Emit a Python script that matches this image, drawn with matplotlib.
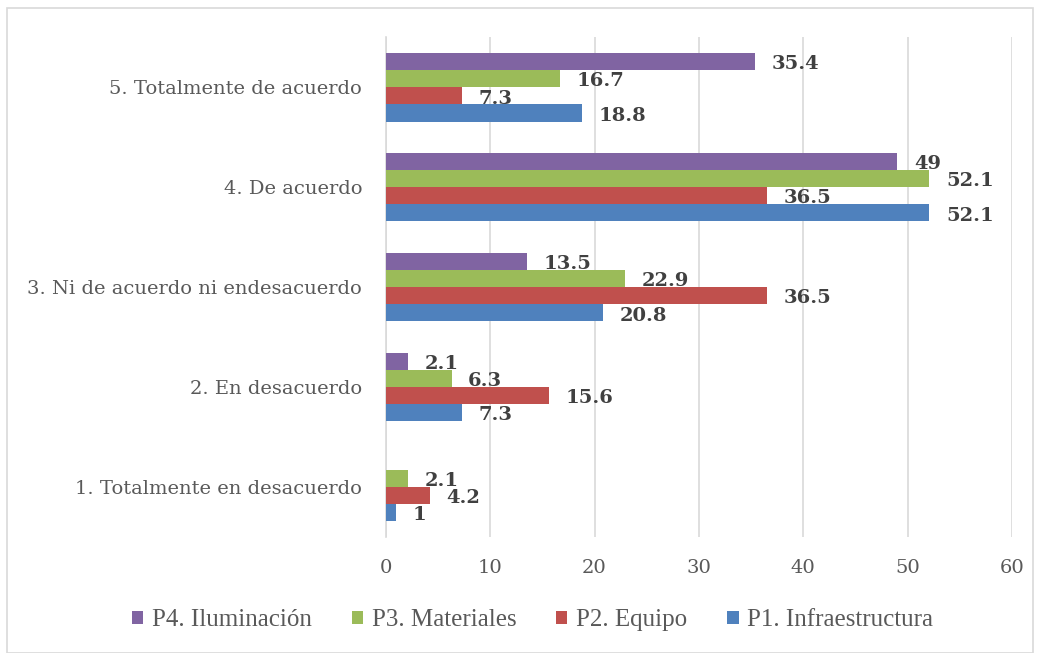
import numpy as np
import matplotlib.pyplot as plt
from matplotlib.patches import Rectangle

categories = ['1. Totalmente en desacuerdo', '2. En desacuerdo',
              '3. Ni de acuerdo ni endesacuerdo', '4. De acuerdo',
              '5. Totalmente de acuerdo']
series_names = ['P1. Infraestructura', 'P2. Equipo', 'P3. Materiales', 'P4. Iluminación']
p1 = [1, 7.3, 20.8, 52.1, 18.8]
p2 = [4.2, 15.6, 36.5, 36.5, 7.3]
p3 = [2.1, 6.3, 22.9, 52.1, 16.7]
p4 = [0, 2.1, 13.5, 49, 35.4]
colors = ['#4F81BD', '#C0504D', '#9BBB59', '#8064A2']

plt.rcParams['font.family'] = ['DejaVu Serif']

fig = plt.figure(figsize=(10.4, 6.53), dpi=100)
fig.patches.append(Rectangle((0.007, 0.0), 0.986, 0.988, transform=fig.transFigure,
                             fill=False, edgecolor='#D9D9D9', lw=1.2))
ax = fig.add_axes([0.371, 0.178, 0.602, 0.765])

y = np.arange(len(categories))
h = 0.172
data = [p1, p2, p3, p4]
bars = []
for i, (vals, c, name) in enumerate(zip(data, colors, series_names)):
    off = (i - 1.5) * h
    b = ax.barh(y + off, vals, h, color=c, label=name, zorder=3)
    bars.append(b)
    for yy, v in zip(y + off, vals):
        if v == 0:
            continue
        ax.annotate(f"{v:g}", xy=(v, yy), xytext=(12, -2), textcoords='offset points',
                    ha='left', va='center', fontsize=14, fontweight='bold',
                    color='#404040', zorder=4)

ax.set_xlim(0, 60)
ax.set_ylim(-0.5, 4.5)
ax.set_xticks(range(0, 61, 10))
ax.set_yticks(y)
ax.set_yticklabels(categories)
ax.tick_params(axis='both', length=0, labelsize=14, colors='#595959')
ax.tick_params(axis='y', pad=17)
ax.tick_params(axis='x', pad=16)
ax.grid(axis='x', color='#D9D9D9', lw=1.2, zorder=0)
for s in ['top', 'right', 'bottom']:
    ax.spines[s].set_visible(False)
ax.spines['left'].set_color('#D9D9D9')
ax.spines['left'].set_linewidth(1.2)

handles = bars[::-1]
fig.legend(handles, series_names[::-1], loc='center', bbox_to_anchor=(0.512, 0.05),
           ncol=4, frameon=False, prop={'family': 'Liberation Serif', 'size': 18},
           handlelength=0.45, handleheight=0.45, handletextpad=0.35,
           columnspacing=1.6, labelcolor='#595959')

fig.savefig('out.png', dpi=100)
